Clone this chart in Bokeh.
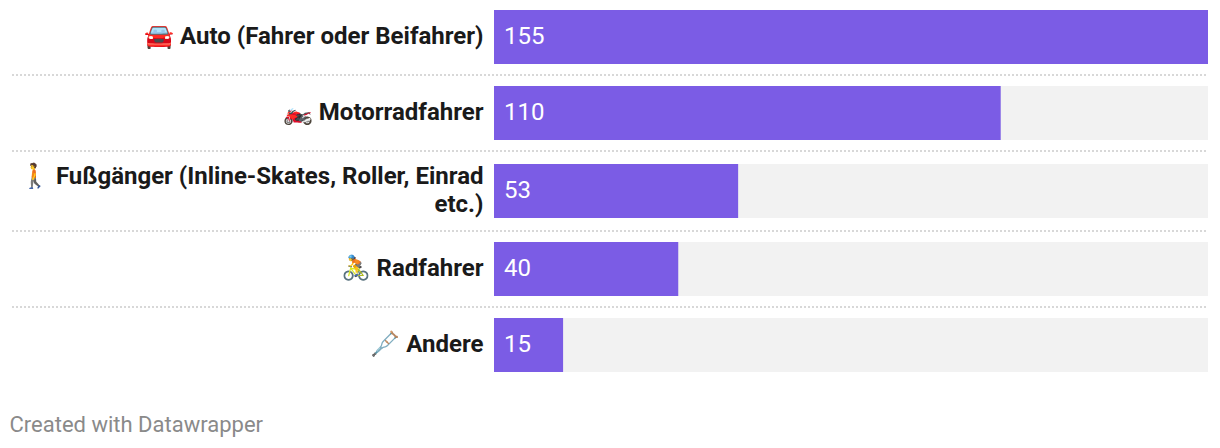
from bokeh.plotting import figure, ColumnDataSource
from bokeh.models import Range1d
from bokeh.core.properties import value
from bokeh.embed import file_html
from bokeh.resources import INLINE

categories = [
    "\U0001F698 Auto (Fahrer oder Beifahrer)",
    "\U0001F3CD\uFE0F Motorradfahrer",
    "\U0001F6B6 Fußgänger (Inline-Skates, Roller, Einrad\netc.)",
    "\U0001F6B4 Radfahrer",
    "\U0001FA7C Andere",
]
values = [155, 110, 53, 40, 15]
max_value = 155
footer = "Created with Datawrapper"

# layout, in page pixels
W, H = 1220, 448
SNAP = 0.5  # Bokeh's SVG backend offsets drawing by half a pixel
bar_left, bar_right = 494, 1208
bar_h = 54
centers = [37, 113, 191, 269, 345]
seps = [75, 151, 231, 307]

scale = (bar_right - bar_left) / max_value
zero_px = bar_left - SNAP
p = figure(width=W, height=H, output_backend="svg", toolbar_location=None,
           x_range=Range1d(-zero_px / scale, (W - zero_px) / scale),
           y_range=Range1d(H + SNAP, SNAP), min_border=0, outline_line_color=None,
           background_fill_color="white", border_fill_color="white")
p.axis.visible = False
p.grid.visible = False

src = ColumnDataSource(dict(cat=categories, val=values, lab=[str(v) for v in values],
                            y=centers, full=[max_value] * len(values)))
sep_x0 = (12 - bar_left) / scale
p.segment(x0=[sep_x0] * len(seps), x1=[max_value] * len(seps), y0=seps, y1=seps,
          line_color="#d8d8d8", line_width=2, line_dash="2 2")
p.hbar(y="y", left=0, right="full", height=bar_h, source=src, fill_color="#f2f2f2", line_color=None)
p.hbar(y="y", left=0, right="val", height=bar_h, source=src, fill_color="#7b5ce5", line_color=None)
p.text(x=0, y="y", text="cat", source=src, x_offset=-10.5, y_offset=-1.5, text_align="right",
       text_baseline="middle", text_font=value("Roboto"), text_font_style="bold",
       text_font_size="24px", text_color="#1a1a1a", text_line_height=1.0)
p.text(x=0, y="y", text="lab", source=src, x_offset=10, y_offset=-1.5, text_align="left",
       text_baseline="middle", text_font=value("Roboto"), text_font_size="24px", text_color="white")
p.text(x=[(9.5 - bar_left) / scale], y=[424], text=[footer], text_align="left",
       text_baseline="middle", text_font=value("Roboto"), text_font_size="22px", text_color="#8a8a8a")

open("out.html", "w").write(file_html(p, INLINE))
